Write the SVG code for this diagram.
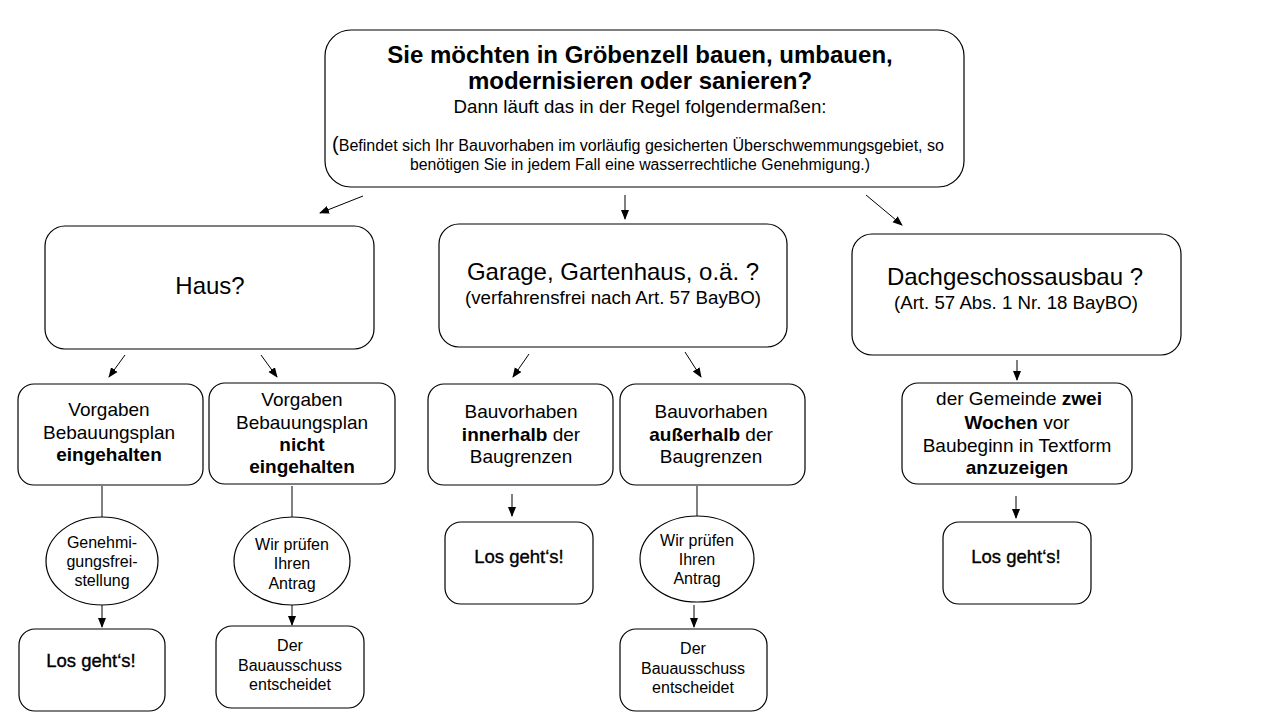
<svg xmlns="http://www.w3.org/2000/svg" width="1280" height="720" viewBox="0 0 1280 720">
<style>
.box{fill:#fff;stroke:#000;stroke-width:1.2}
.t{font-family:"Liberation Sans",Arial,sans-serif;fill:#000;text-anchor:middle}
.b{font-weight:bold}
.f19{font-size:19px}
.f16{font-size:16px}
.f24{font-size:24px}
.f18{font-size:18.7px}
.los{font-size:18.5px;stroke:#000;stroke-width:0.35}
.c{stroke:#000;stroke-width:1;fill:none}
</style>
<defs>
<marker id="ah" markerUnits="userSpaceOnUse" markerWidth="10" markerHeight="10" viewBox="0 0 10 10" refX="9" refY="5" orient="auto">
<path d="M0,1 L10,5 L0,9 Z" fill="#000"/>
</marker>
</defs>
<rect width="1280" height="720" fill="#fff"/>

<g id="connectors">
<line class="c" x1="363" y1="196" x2="320" y2="213" marker-end="url(#ah)"/>
<line class="c" x1="625" y1="195" x2="625" y2="219" marker-end="url(#ah)"/>
<line class="c" x1="866" y1="195" x2="902" y2="225" marker-end="url(#ah)"/>
<line class="c" x1="125" y1="355" x2="109" y2="377" marker-end="url(#ah)"/>
<line class="c" x1="261" y1="355" x2="277" y2="377" marker-end="url(#ah)"/>
<line class="c" x1="529" y1="354" x2="513" y2="377" marker-end="url(#ah)"/>
<line class="c" x1="685" y1="352" x2="701" y2="377" marker-end="url(#ah)"/>
<line class="c" x1="1017" y1="360" x2="1017" y2="380" marker-end="url(#ah)"/>
<line class="c" x1="102" y1="486" x2="102" y2="517"/>
<line class="c" x1="102" y1="605" x2="102" y2="627" marker-end="url(#ah)"/>
<line class="c" x1="292" y1="486" x2="292" y2="517"/>
<line class="c" x1="292" y1="605" x2="292" y2="625" marker-end="url(#ah)"/>
<line class="c" x1="512" y1="494" x2="512" y2="516" marker-end="url(#ah)"/>
<line class="c" x1="697" y1="486" x2="697" y2="516"/>
<line class="c" x1="694" y1="605" x2="694" y2="627" marker-end="url(#ah)"/>
<line class="c" x1="1016" y1="496" x2="1016" y2="518" marker-end="url(#ah)"/>
</g>

<g id="start">
<rect class="box" x="325" y="30" width="639" height="157" rx="26"/>
<text class="t b f24" x="640" y="63">Sie möchten in Gröbenzell bauen, umbauen,</text>
<text class="t b f24" x="640" y="89">modernisieren oder sanieren?</text>
<text class="t" font-size="19" x="640" y="113" textLength="373" lengthAdjust="spacingAndGlyphs">Dann läuft das in der Regel folgendermaßen:</text>
<text class="t" font-size="16" x="638" y="151" textLength="612" lengthAdjust="spacingAndGlyphs"><tspan font-size="20">(</tspan>Befindet sich Ihr Bauvorhaben im vorläufig gesicherten Überschwemmungsgebiet, so</text>
<text class="t" font-size="16" x="640" y="170" textLength="460" lengthAdjust="spacingAndGlyphs">benötigen Sie in jedem Fall eine wasserrechtliche Genehmigung.)</text>
</g>

<g id="haus">
<rect class="box" x="45" y="226" width="329" height="123" rx="20"/>
<text class="t f24" x="210" y="294">Haus?</text>
</g>

<g id="garage">
<rect class="box" x="439" y="224" width="348" height="123" rx="20"/>
<text class="t f24" x="613" y="280">Garage, Gartenhaus, o.ä. ?</text>
<text class="t f18" x="613" y="304">(verfahrensfrei nach Art. 57 BayBO)</text>
</g>

<g id="dach">
<rect class="box" x="852" y="234" width="329" height="121" rx="20"/>
<text class="t f24" x="1015" y="285">Dachgeschossausbau ?</text>
<text class="t f18" x="1016" y="309">(Art. 57 Abs. 1 Nr. 18 BayBO)</text>
</g>

<g id="eingehalten">
<rect class="box" x="18" y="384" width="185" height="101" rx="16"/>
<text class="t f19" x="109" y="416">Vorgaben</text>
<text class="t f19" x="109" y="439">Bebauungsplan</text>
<text class="t f19 b" x="109" y="461">eingehalten</text>
</g>

<g id="nicht-eingehalten">
<rect class="box" x="209" y="383" width="186" height="101" rx="16"/>
<text class="t f19" x="302" y="406">Vorgaben</text>
<text class="t f19" x="302" y="429">Bebauungsplan</text>
<text class="t f19 b" x="302" y="451">nicht</text>
<text class="t f19 b" x="302" y="473">eingehalten</text>
</g>

<g id="innerhalb">
<rect class="box" x="428" y="384" width="185" height="101" rx="16"/>
<text class="t f19" x="521" y="418">Bauvorhaben</text>
<text class="t f19" x="521" y="441"><tspan class="b">innerhalb</tspan> der</text>
<text class="t f19" x="521" y="463">Baugrenzen</text>
</g>

<g id="ausserhalb">
<rect class="box" x="620" y="384" width="185" height="101" rx="16"/>
<text class="t f19" x="711" y="418">Bauvorhaben</text>
<text class="t f19" x="711" y="441"><tspan class="b">außerhalb</tspan> der</text>
<text class="t f19" x="711" y="463">Baugrenzen</text>
</g>

<g id="anzeigen">
<rect class="box" x="902" y="383" width="230" height="101" rx="16"/>
<text class="t f19" x="1019" y="405">der Gemeinde <tspan class="b">zwei</tspan></text>
<text class="t f19" x="1017" y="429"><tspan class="b">Wochen</tspan> vor</text>
<text class="t f19" x="1017" y="452">Baubeginn in Textform</text>
<text class="t f19 b" x="1017" y="474">anzuzeigen</text>
</g>

<g id="freistellung">
<ellipse class="box" cx="102" cy="561" rx="56" ry="44"/>
<text class="t f16" x="102" y="548">Genehmi-</text>
<text class="t f16" x="102" y="567">gungsfrei-</text>
<text class="t f16" x="102" y="586">stellung</text>
</g>

<g id="pruefen1">
<ellipse class="box" cx="292" cy="561" rx="58" ry="44"/>
<text class="t f16" x="292" y="550">Wir prüfen</text>
<text class="t f16" x="292" y="569">Ihren</text>
<text class="t f16" x="292" y="589">Antrag</text>
</g>

<g id="pruefen2">
<ellipse class="box" cx="697" cy="559" rx="57" ry="43"/>
<text class="t f16" x="697" y="546">Wir prüfen</text>
<text class="t f16" x="697" y="565">Ihren</text>
<text class="t f16" x="697" y="584">Antrag</text>
</g>

<g id="los1">
<rect class="box" x="19" y="629" width="146" height="82" rx="16"/>
<text class="t los" x="91" y="667">Los geht‘s!</text>
</g>

<g id="ausschuss1">
<rect class="box" x="216" y="626" width="148" height="82" rx="16"/>
<text class="t f16" x="290" y="651">Der</text>
<text class="t f16" x="290" y="671">Bauausschuss</text>
<text class="t f16" x="290" y="690">entscheidet</text>
</g>

<g id="los2">
<rect class="box" x="445" y="522" width="148" height="82" rx="16"/>
<text class="t los" x="519" y="563">Los geht‘s!</text>
</g>

<g id="ausschuss2">
<rect class="box" x="620" y="629" width="147" height="82" rx="16"/>
<text class="t f16" x="693" y="654">Der</text>
<text class="t f16" x="693" y="674">Bauausschuss</text>
<text class="t f16" x="693" y="693">entscheidet</text>
</g>

<g id="los3">
<rect class="box" x="943" y="522" width="148" height="82" rx="16"/>
<text class="t los" x="1016" y="563">Los geht‘s!</text>
</g>
</svg>
